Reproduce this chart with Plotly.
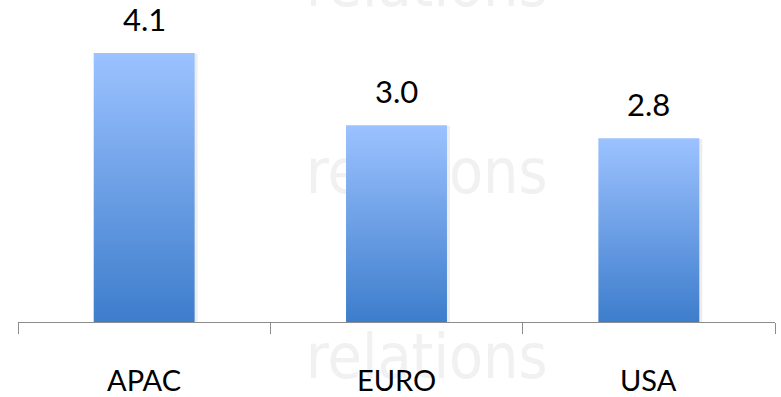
import plotly.graph_objects as go

# Data
regions = ["APAC", "EURO", "USA"]
values = [4.1, 3.0, 2.8]

BAR_WIDTH = 0.40
TOP_COLOR = "#9CC2FF"
BOTTOM_COLOR = "#3D7DCC"
AXIS_COLOR = "#8C8C8C"
LABEL_FONT = "Lato"
PLOT_TOP_PX, PLOT_BOTTOM_PX = 0, 322


def paper_y(px):
    """Convert a pixel row (from the top of the figure) to paper coordinates."""
    return (PLOT_BOTTOM_PX - px) / (PLOT_BOTTOM_PX - PLOT_TOP_PX)


fig = go.Figure()

positions = list(range(len(regions)))

for i, (name, v) in enumerate(zip(regions, values)):
    left, right = i - BAR_WIDTH / 2, i + BAR_WIDTH / 2
    # soft drop shadow on the right-hand side of each bar
    fig.add_trace(go.Scatter(
        x=[left + 0.006, right + 0.012, right + 0.012, left + 0.006, left + 0.006],
        y=[0, 0, v - 0.01, v - 0.01, 0],
        fill="toself", mode="lines", line=dict(width=0),
        fillcolor="rgba(0,0,0,0.07)", hoverinfo="skip", showlegend=False,
    ))
    # gradient-filled bar (dark at the base, light at the top)
    fig.add_trace(go.Scatter(
        x=[left, right, right, left, left],
        y=[0, 0, v, v, 0],
        fill="toself", mode="lines", line=dict(width=0),
        fillgradient=dict(type="vertical",
                          colorscale=[[0, BOTTOM_COLOR], [1, TOP_COLOR]]),
        name=name, hovertemplate=f"{name}: {v:.1f}<extra></extra>",
        showlegend=False,
    ))

# faint "relations" watermark behind the chart
shapes = []
for center_px in [-20, 167, 352]:
    cy = paper_y(center_px)
    shapes.append(dict(
        type="rect", layer="below", xref="paper", yref="paper",
        x0=0.30, x1=0.78, y0=cy - 0.08, y1=cy + 0.08,
        line=dict(width=0), fillcolor="rgba(0,0,0,0)",
        label=dict(text="relations", textposition="middle center",
                   font=dict(family="DejaVu Sans Condensed, Roboto, sans-serif",
                             size=62, color="#F1F1F1")),
    ))

annotations = []

# value labels above the bars
for i, v in zip(positions, values):
    annotations.append(dict(
        text=f"{v:.1f}", x=i, y=v, xref="x", yref="y",
        xanchor="center", yanchor="bottom", yshift=13, showarrow=False,
        font=dict(family=LABEL_FONT, size=31, color="#000000"),
    ))

# category labels below the axis
for i, name in zip(positions, regions):
    annotations.append(dict(
        text=name, x=i, y=0, xref="x", yref="y",
        xanchor="center", yanchor="middle", yshift=-57, showarrow=False,
        font=dict(family=LABEL_FONT, size=29, color="#000000"),
    ))

fig.update_layout(
    width=781, height=397,
    margin=dict(l=18, r=6, t=0, b=75),
    paper_bgcolor="white", plot_bgcolor="rgba(0,0,0,0)",
    xaxis=dict(
        range=[-0.5, len(regions) - 0.5],
        tickvals=[p - 0.5 for p in positions] + [len(regions) - 0.5],
        ticktext=[""] * (len(regions) + 1),
        ticks="outside", ticklen=11, tickwidth=1.3, tickcolor=AXIS_COLOR,
        showline=True, linecolor=AXIS_COLOR, linewidth=1.3,
        showgrid=False, zeroline=False, fixedrange=True,
    ),
    yaxis=dict(
        range=[0, 4.91], visible=False, showgrid=False, zeroline=False,
        fixedrange=True,
    ),
    shapes=shapes,
    annotations=annotations,
)

fig.write_html("out.html")
